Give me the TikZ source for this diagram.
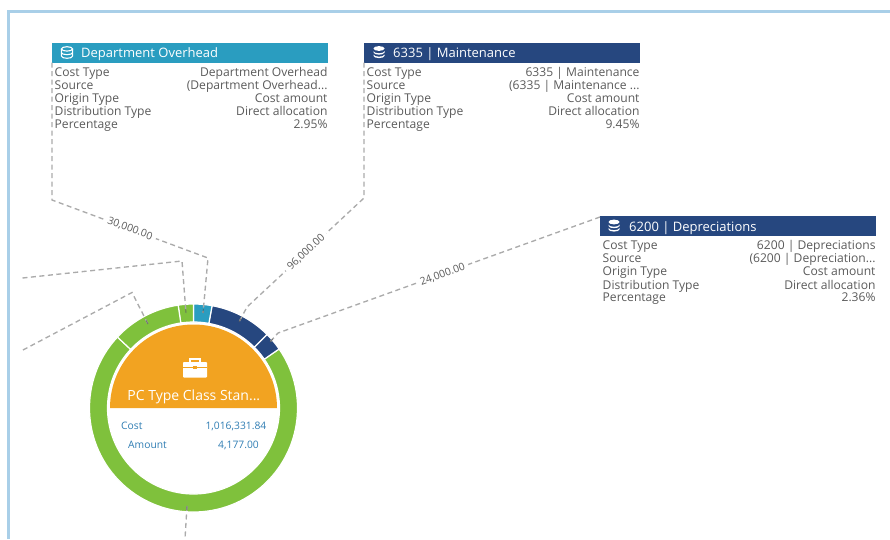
\documentclass[tikz,border=0pt]{standalone}
\usepackage{fontspec}
\usetikzlibrary{calc}
\setmainfont{Open Sans}
\definecolor{frameblue}{HTML}{A9CFE8}
\definecolor{teal}{HTML}{2A9DC0}
\definecolor{navy}{HTML}{26477F}
\definecolor{ringgreen}{HTML}{7FC13C}
\definecolor{orangefill}{HTML}{F2A321}
\definecolor{rowtext}{HTML}{5A5A5A}
\definecolor{valblue}{HTML}{2F7DB3}
\definecolor{linkgray}{HTML}{ABABAB}
\tikzset{
  x=1pt,y=1pt,
  header/.style={anchor=north west,minimum width=276pt,minimum height=20.2pt,inner sep=0pt,outer sep=0pt},
  headtext/.style={anchor=base west,inner sep=0pt,text=white,font=\fontsize{13}{15}\selectfont},
  rowl/.style={anchor=base west,inner sep=0pt,text=rowtext,font=\fontsize{12.1}{14}\selectfont},
  rowr/.style={anchor=base east,inner sep=0pt,text=rowtext,font=\fontsize{12.1}{14}\selectfont},
  link/.style={draw=linkgray,line width=1.35pt,dash pattern=on 5pt off 3.5pt},
  linktick/.style={draw=black!65,opacity=0.7,line width=0.9pt},
  linklabel/.style={fill=white,inner xsep=4pt,inner ysep=1pt,text=rowtext,font=\fontsize{10.4}{12}\selectfont},
  seg/.style={draw=white,line width=1.2pt},
  val/.style={inner sep=0pt,text=valblue,font=\fontsize{10.3}{12}\selectfont},
}
\newcommand{\infobox}[9]{%
  \node[header,fill=#4] (#1) at (#2,-#3) {};
  \node[headtext] (#1t) at ([xshift=29pt,yshift=-15pt]#1.north west) {#5};
  \node[rowl] (#1a) at ([xshift=2.5pt,yshift=-33.5pt]#1.north west) {Cost Type};
  \node[rowl] (#1b) at ([xshift=2.5pt,yshift=-46.5pt]#1.north west) {Source};
  \node[rowl] (#1c) at ([xshift=2.5pt,yshift=-59.5pt]#1.north west) {Origin Type};
  \node[rowl] (#1d) at ([xshift=2.5pt,yshift=-73pt]#1.north west) {Distribution Type};
  \node[rowl] (#1e) at ([xshift=2.5pt,yshift=-85.8pt]#1.north west) {Percentage};
  \node[rowr] (#1A) at ([xshift=-0.3pt,yshift=-33.5pt]#1.north east) {#5};
  \node[rowr] (#1B) at ([xshift=-0.3pt,yshift=-46.5pt]#1.north east) {#6};
  \node[rowr] (#1C) at ([xshift=-0.3pt,yshift=-59.5pt]#1.north east) {#7};
  \node[rowr] (#1D) at ([xshift=-0.3pt,yshift=-73pt]#1.north east) {#8};
  \node[rowr] (#1E) at ([xshift=-0.3pt,yshift=-85.8pt]#1.north east) {#9};
}
\newcommand{\ringseg}[3]{%
  \path[seg,fill=#1] (#2:104) arc[start angle=#2,end angle=#3,radius=104] -- (#3:86) arc[start angle=#3,end angle=#2,radius=86] -- cycle;
}
\newcommand{\dbfilled}[2]{%
  \begin{scope}[shift={(#1,-#2)}]
    \fill[white] (0,4) ellipse[x radius=5.5,y radius=2.4];
    \fill[white] (-5.5,1.4) arc[start angle=180,end angle=360,x radius=5.5,y radius=2.2] -- (5.5,0) arc[start angle=0,end angle=-180,x radius=5.5,y radius=2.2] -- cycle;
    \fill[white] (-5.5,-2) arc[start angle=180,end angle=360,x radius=5.5,y radius=2.2] -- (5.5,-3.4) arc[start angle=0,end angle=-180,x radius=5.5,y radius=2.2] -- cycle;
  \end{scope}}
\begin{document}
\begin{tikzpicture}
\useasboundingbox (0,0) rectangle (890,-539);
\draw[frameblue,line width=3pt] (890,-11.5) -- (8.5,-11.5) -- (8.5,-539);

\infobox{dept}{52}{42.5}{teal}{Department Overhead}{(Department Overhead...}{Cost amount}{Direct allocation}{2.95\%}
\infobox{maint}{364}{42.5}{navy}{6335 | Maintenance}{(6335 | Maintenance ...}{Cost amount}{Direct allocation}{9.45\%}
\infobox{depr}{600}{216}{navy}{6200 | Depreciations}{(6200 | Depreciation...}{Cost amount}{Direct allocation}{2.36\%}

% database icons
\begin{scope}[shift={(67,-52.5)},white,line width=1.1pt]
  \draw (0,3.6) ellipse[x radius=5.6,y radius=2.2];
  \draw (-5.6,3.6) -- (-5.6,-3.6) arc[start angle=180,end angle=360,x radius=5.6,y radius=2.2] -- (5.6,3.6);
  \draw (-5.6,0) arc[start angle=180,end angle=360,x radius=5.6,y radius=2.2];
\end{scope}
\dbfilled{379}{52.5}
\dbfilled{614}{226}

% ring and centre
\begin{scope}[shift={(193.5,-408)}]
  \ringseg{ringgreen}{137}{394.6}
  \ringseg{navy}{34.6}{45}
  \ringseg{navy}{45}{79.7}
  \ringseg{teal}{79.7}{90}
  \ringseg{ringgreen}{90}{98.5}
  \ringseg{ringgreen}{98.5}{137}
  \fill[orangefill] (83.5,0) arc[start angle=0,end angle=180,radius=83.5] -- cycle;
\end{scope}

% briefcase
\begin{scope}[shift={(195,-368)}]
  \draw[white,line width=1.2pt] (-5,6) -- (-5,9) -- (5,9) -- (5,6);
  \fill[white,rounded corners=0.8pt] (-12,6) rectangle (12,-9.5);
  \draw[orangefill,line width=0.8pt] (-12,0.5) -- (12,0.5);
  \fill[orangefill] (-1.8,-1) rectangle (1.8,1.8);
\end{scope}

\node[anchor=base,inner sep=0pt,text=white,font=\fontsize{14}{16}\selectfont] (title) at (193.8,-400.7) {PC Type Class Stan...};
\node[val,anchor=base west] (costl) at (121,-429.3) {Cost};
\node[val,anchor=base east] (costv) at (266.5,-429.3) {1,016,331.84};
\node[val,anchor=base west] (amtl) at (128,-448.3) {Amount};
\node[val,anchor=base east] (amtv) at (259,-448.3) {4,177.00};

% connector waypoints
\coordinate (d1) at (52,-200);
\coordinate (d2) at (208,-258);
\coordinate (d3) at (203,-313);
\coordinate (m1) at (364,-198);
\coordinate (m3) at (247,-307);
\coordinate (m2) at (239,-322);
\coordinate (p1) at (278,-333);
\coordinate (p2) at (270,-342);
\coordinate (l1) at (22.5,-278);
\coordinate (l2) at (182,-261);
\coordinate (l3) at (186,-313);
\coordinate (q1) at (23,-350);
\coordinate (q2) at (132,-292.5);
\coordinate (q3) at (148,-324);
\coordinate (b1) at (187,-506);
\coordinate (b2) at (185,-539);

\draw[link] (dept.south west) -- (d1) -- node[linklabel,sloped,pos=0.5] (lab30) {30,000.00} (d2) -- (d3);
\draw[link] (maint.south west) -- (m1) -- node[linklabel,sloped,pos=0.495] (lab96) {96,000.00} (m3) -- (m2);
\draw[link] (depr.north west) ++(0,-1) -- node[linklabel,sloped,pos=0.49,yshift=-1pt] (lab24) {24,000.00} (p1) -- (p2);
\draw[link] (l1) -- (l2) -- (l3);
\draw[link] (q1) -- (q2) -- (q3);
\draw[link] (b1) -- (b2);

% dark marks where the connectors meet the ring
\draw[linktick] (d3) -- ($(d3)!4pt!(d2)$);
\draw[linktick] (m2) -- ($(m2)!4pt!(m3)$);
\draw[linktick] (p2) -- ($(p2)!4pt!(p1)$);
\draw[linktick] (l3) -- ($(l3)!4pt!(l2)$);
\draw[linktick] (q3) -- ($(q3)!4pt!(q2)$);
\draw[linktick] (b1) -- ($(b1)!4pt!(b2)$);
\end{tikzpicture}
\end{document}
